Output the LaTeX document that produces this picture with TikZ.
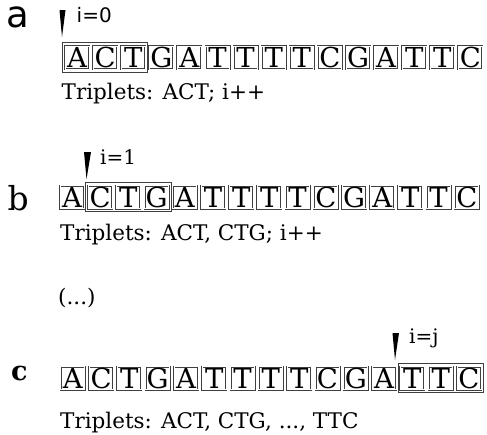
\documentclass[tikz,border=0pt]{standalone}
\usepackage{fontspec}
\setmainfont{DejaVu Serif}
\newfontfamily\sansf{DejaVu Sans}
\usetikzlibrary{fit}
\tikzset{
  letterbox/.style={draw=black!75, double, double distance=1pt, line width=0.5pt,
    minimum width=24pt, minimum height=23pt, inner sep=0pt,
    font=\fontsize{27.5}{28}\selectfont, text height=20pt, text depth=0pt},
  tripbox/.style={draw=black!75, line width=0.9pt, inner xsep=2.2pt, inner ysep=3pt},
  wedge/.style={fill=black},
  ilabel/.style={anchor=base west, inner sep=0pt, font=\fontsize{20}{22}\selectfont},
  tripl/.style={anchor=base west, inner sep=0pt, font=\fontsize{21.5}{23}\selectfont},
}
\begin{document}
\begin{tikzpicture}[x=1pt,y=-1pt]
\useasboundingbox (0,0) rectangle (487,434);
% row labels
\node[anchor=base west, inner sep=0pt, font=\sansf\fontsize{37}{38}\selectfont] (la) at (6,27) {a};
\node[anchor=base west, inner sep=0pt, font=\fontsize{33}{34}\selectfont] (lb) at (7.5,210) {b};
\node[anchor=base west, inner sep=0pt, font=\bfseries\fontsize{27}{28}\selectfont] (lc) at (11,380) {c};
% sequences
\foreach \L [count=\i from 0] in {A,C,T,G,A,T,T,T,T,C,G,A,T,T,C} {
  \node[letterbox] (a\i) at ({77+28.1*\i},57.5) {\L};
  \node[letterbox] (b\i) at ({72+28.2*\i},197) {\L};
  \node[letterbox] (c\i) at ({72.8+28.3*\i},378) {\L};
}
% triplet frames
\node[tripbox, fit=(a0)(a2)] (fa) {};
\node[tripbox, fit=(b1)(b3)] (fb) {};
\node[tripbox, fit=(c12)(c14)] (fc) {};
% pointers
\fill[wedge] (59.5,10) -- (65.5,10) -- (62,37) -- cycle;
\fill[wedge] (84,152) -- (91,152) -- (86.5,179) -- cycle;
\fill[wedge] (392.5,333) -- (399,333) -- (395,360) -- cycle;
\node[ilabel, font=\sansf\fontsize{20}{22}\selectfont] (ia) at (76.5,22) {i=0};
\node[ilabel] (ib) at (100,164) {i=1};
\node[ilabel] (ic) at (409,343) {i=j};
% triplet texts
\node[tripl] (ta) at (61.5,99) {Triplets: ACT; i++};
\node[tripl] (tb) at (60,240) {Triplets: ACT, CTG; i++};
\node[tripl] (dots) at (58,304) {(...)};
\node[tripl] (tc) at (60,428) {Triplets: ACT, CTG, ..., TTC};
\end{tikzpicture}
\end{document}
